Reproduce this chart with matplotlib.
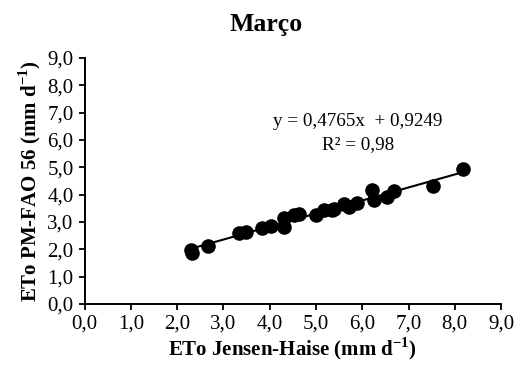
import numpy as np
import matplotlib.pyplot as plt

plt.rcParams.update({
    "font.family": "serif",
    "font.serif": ["Liberation Serif", "DejaVu Serif"],
    "mathtext.fontset": "custom",
    "mathtext.rm": "Liberation Serif",
    "mathtext.bf": "Liberation Serif:bold",
})

# ETo Jensen-Haise (x) vs ETo PM-FAO 56 (y), March
eto_jh = [2.30, 2.33, 2.66, 3.34, 3.48, 3.84, 4.02, 4.31, 4.31, 4.53, 4.63, 4.99,
          5.17, 5.35, 5.39, 5.60, 5.71, 5.89, 6.21, 6.25, 6.54, 6.68, 7.52, 8.17]
eto_pm = [1.97, 1.85, 2.13, 2.58, 2.64, 2.76, 2.85, 2.82, 3.13, 3.25, 3.28, 3.25,
          3.43, 3.45, 3.49, 3.65, 3.55, 3.70, 4.16, 3.80, 3.92, 4.14, 4.31, 4.93]
slope, intercept = 0.4765, 0.9249
ticks = [0, 1, 2, 3, 4, 5, 6, 7, 8, 9]

fig = plt.figure(figsize=(5.16, 3.67), dpi=100)
ax = fig.add_axes([0.164, 0.172, 0.807, 0.670])

ax.scatter(eto_jh, eto_pm, s=90, color="black", zorder=3)
xl = np.array([min(eto_jh), max(eto_jh)])
ax.plot(xl, slope * xl + intercept, color="black", linewidth=1.5, zorder=2)

ax.set_xlim(0, 9)
ax.set_ylim(0, 9)
ax.set_xticks(ticks)
ax.set_yticks(ticks)
ax.set_xticklabels([f"{t:.1f}".replace(".", ",") for t in ticks])
ax.set_yticklabels([f"{t:.1f}".replace(".", ",") for t in ticks])
ax.tick_params(labelsize=15, direction="out", length=4, width=1.3, colors="black", pad=4)
for spine in ("top", "right"):
    ax.spines[spine].set_visible(False)
for spine in ("left", "bottom"):
    ax.spines[spine].set_linewidth(1.4)

ax.set_xlabel(r"ETo Jensen-Haise (mm d$^{\mathbf{-1}}$)", fontsize=15,
              fontweight="bold", labelpad=1)
ax.set_ylabel(r"ETo PM-FAO 56 (mm d$^{\mathbf{-1}}$)", fontsize=15,
              fontweight="bold", labelpad=3)
fig.text(0.515, 0.932, "Março", fontsize=18.5, fontweight="bold", ha="center", va="center")

ax.text(5.91, 6.66, "y = 0,4765x  + 0,9249", fontsize=13.8, ha="center", va="center")
ax.text(5.91, 5.82, "R² = 0,98", fontsize=13.8, ha="center", va="center")

fig.savefig("out.png", dpi=100)
